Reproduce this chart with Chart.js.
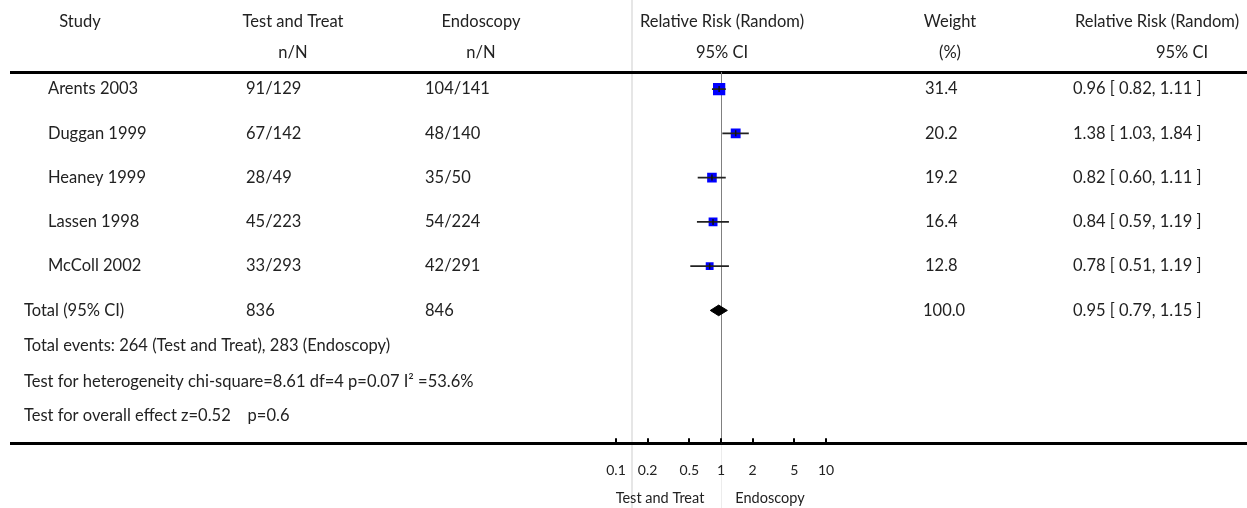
<!DOCTYPE html>
<html>
<head>
<meta charset="utf-8">
<script src="https://cdn.jsdelivr.net/npm/chart.js@4.4.1/dist/chart.umd.min.js"></script>
<style>
  html, body { margin: 0; padding: 0; background: #fff; }
  #wrap { width: 1247px; height: 508px; }
</style>
</head>
<body>
<div id="wrap"><canvas id="forest" width="1247" height="508"></canvas></div>
<script>
// study rows
const studies = ['Arents 2003', 'Duggan 1999', 'Heaney 1999', 'Lassen 1998', 'McColl 2002'];
const treatCounts = ['91/129', '67/142', '28/49', '45/223', '33/293'];
const endoCounts = ['104/141', '48/140', '35/50', '54/224', '42/291'];
const rr = [0.96, 1.38, 0.82, 0.84, 0.78];
const rrLow = [0.82, 1.03, 0.60, 0.59, 0.51];
const rrHigh = [1.11, 1.84, 1.11, 1.19, 1.19];
const weights = [31.4, 20.2, 19.2, 16.4, 12.8];

// pooled row
const totalLabel = 'Total (95% CI)';
const totalTreat = '836';
const totalEndo = '846';
const totalRR = 0.95;
const totalLow = 0.79;
const totalHigh = 1.15;
const totalWeight = 100.0;

const footnotes = [
  'Total events: 264 (Test and Treat), 283 (Endoscopy)',
  'Test for heterogeneity chi-square=8.61 df=4 p=0.07 I\u00b2 =53.6%',
  'Test for overall effect z=0.52    p=0.6'
];

const tickValues = [0.1, 0.2, 0.5, 1, 2, 5, 10];
const tickLabels = ['0.1', '0.2', '0.5', '1', '2', '5', '10'];

// layout
const W = 1247, H = 508;
const ONE_PX = 721, DECADE_PX = 105, LEFT_PX = 11;
const xMin = Math.pow(10, (LEFT_PX - ONE_PX) / DECADE_PX);
const xMax = Math.pow(10, (W - ONE_PX) / DECADE_PX);
const totalRow = studies.length;
const footRows = [5.8, 6.6, 7.37];
const FONT = 'Lato, "Open Sans", sans-serif';
const INK = '#222';

const fmt = v => v.toFixed(2);
const ciText = (m, l, h) => `${fmt(m)} [ ${fmt(l)}, ${fmt(h)} ]`;

// datasets
const squares = {
  label: 'studies',
  data: rr.map((v, i) => ({ x: v, y: i })),
  pointStyle: 'rect',
  pointRadius: weights.map(w => 1.55 * Math.sqrt(w)),
  backgroundColor: '#0000ff',
  borderColor: '#0000ff',
  borderWidth: 0,
  order: 3
};
const ciLines = rr.map((_, i) => ({
  label: 'ci' + i,
  data: [{ x: rrLow[i], y: i }, { x: rrHigh[i], y: i }],
  showLine: true,
  borderColor: '#222',
  borderWidth: 1.6,
  pointRadius: 0,
  order: 2
}));
const centreTicks = {
  label: 'est',
  data: rr.map((v, i) => ({ x: v, y: i })),
  pointStyle: 'line',
  rotation: 90,
  pointRadius: 3,
  borderColor: '#111',
  borderWidth: 1.5,
  order: 1
};
const dh = 0.12;
const diamond = {
  label: 'total',
  data: [
    { x: totalLow, y: totalRow },
    { x: totalRR, y: totalRow - dh },
    { x: totalHigh, y: totalRow },
    { x: totalRR, y: totalRow + dh },
    { x: totalLow, y: totalRow }
  ],
  showLine: true,
  fill: 'shape',
  tension: 0,
  backgroundColor: '#000',
  borderColor: '#000',
  borderWidth: 1,
  pointRadius: 0,
  order: 1
};

const tableText = {
  id: 'tableText',
  beforeDraw(chart) {
    const { ctx, chartArea, scales } = chart;
    const x1 = Math.round(scales.x.getPixelForValue(1)) + 0.5;
    ctx.save();
    ctx.fillStyle = '#fff';
    ctx.fillRect(0, 0, W, H);
    ctx.strokeStyle = '#e6e6e6';
    ctx.lineWidth = 2;
    ctx.beginPath();
    ctx.moveTo(632, 0);
    ctx.lineTo(632, H);
    ctx.stroke();
    // faint continuation of the no-effect line below the axis
    ctx.lineWidth = 1;
    ctx.strokeStyle = '#ececec';
    ctx.beginPath();
    ctx.moveTo(x1, chartArea.bottom);
    ctx.lineTo(x1, H);
    ctx.stroke();
    ctx.restore();
  },
  beforeDatasetsDraw(chart) {
    const { ctx, chartArea, scales } = chart;
    const x1 = Math.round(scales.x.getPixelForValue(1)) + 0.5;
    ctx.save();
    ctx.lineWidth = 1;
    ctx.strokeStyle = '#808080';
    ctx.beginPath();
    ctx.moveTo(x1, chartArea.top);
    ctx.lineTo(x1, chartArea.bottom);
    ctx.stroke();
    ctx.restore();
  },
  afterDraw(chart) {
    const { ctx, chartArea, scales } = chart;
    const y = v => scales.y.getPixelForValue(v);
    const top = chartArea.top;
    ctx.save();
    ctx.fillStyle = INK;
    ctx.textBaseline = 'middle';
    ctx.font = '16.5px ' + FONT;

    const put = (t, x, yy, align) => {
      ctx.textAlign = align || 'left';
      ctx.fillText(t, x, yy);
    };

    // header
    const h1 = top - 50, h2 = top - 19;
    put('Study', 80, h1, 'center');
    put('Test and Treat', 293, h1, 'center');
    put('n/N', 293, h2, 'center');
    put('Endoscopy', 481, h1, 'center');
    put('n/N', 481, h2, 'center');
    put('Relative Risk (Random)', 722, h1, 'center');
    put('95% CI', 722, h2, 'center');
    put('Weight', 950, h1, 'center');
    put('(%)', 950, h2, 'center');
    put('Relative Risk (Random)', 1157, h1, 'center');
    put('95% CI', 1182, h2, 'center');

    // study rows
    studies.forEach((s, i) => {
      const yy = y(i);
      put(s, 48, yy);
      put(treatCounts[i], 246, yy);
      put(endoCounts[i], 425, yy);
      put(weights[i].toFixed(1), 925, yy);
      put(ciText(rr[i], rrLow[i], rrHigh[i]), 1073, yy);
    });

    // total row
    const ty = y(totalRow);
    put(totalLabel, 24, ty);
    put(totalTreat, 246, ty);
    put(totalEndo, 425, ty);
    put(totalWeight.toFixed(1), 923, ty);
    put(ciText(totalRR, totalLow, totalHigh), 1073, ty);

    footnotes.forEach((f, i) => put(f, 24, y(footRows[i])));

    // tick marks above the axis line
    ctx.strokeStyle = '#000';
    ctx.lineWidth = 2;
    tickValues.forEach(v => {
      const px = Math.round(scales.x.getPixelForValue(v));
      ctx.beginPath();
      ctx.moveTo(px, chartArea.bottom - 5);
      ctx.lineTo(px, chartArea.bottom);
      ctx.stroke();
    });

    // favours labels
    ctx.font = '14.5px ' + FONT;
    put('Test and Treat', 660, H - 10, 'center');
    put('Endoscopy', 770, H - 10, 'center');
    ctx.restore();
  }
};

const noEdgePadding = s => { s.paddingLeft = 0; s.paddingRight = 0; };

new Chart(document.getElementById('forest'), {
  type: 'scatter',
  data: { datasets: [squares, ...ciLines, centreTicks, diamond] },
  options: {
    responsive: false,
    animation: false,
    events: [],
    layout: { autoPadding: false, padding: { top: 72, bottom: 10, left: LEFT_PX, right: 0 } },
    plugins: { legend: { display: false }, tooltip: { enabled: false } },
    scales: {
      x: {
        type: 'logarithmic',
        position: 'bottom',
        min: xMin,
        max: xMax,
        afterBuildTicks: scale => {
          scale.ticks = tickValues.map(v => ({ value: v }));
        },
        afterFit: noEdgePadding,
        ticks: {
          autoSkip: false,
          maxRotation: 0,
          padding: 19,
          color: INK,
          font: { family: FONT, size: 14 },
          callback: (val) => tickLabels[tickValues.indexOf(val)] ?? ''
        },
        grid: { display: false, drawTicks: false },
        border: { display: true, color: '#000', width: 3 }
      },
      xTop: {
        type: 'linear',
        position: 'top',
        min: 0,
        max: 1,
        afterFit: noEdgePadding,
        ticks: { display: false },
        grid: { display: false, drawTicks: false },
        border: { display: true, color: '#000', width: 3 }
      },
      y: {
        type: 'linear',
        min: -0.386,
        max: 8,
        reverse: true,
        display: false
      }
    }
  },
  plugins: [tableText]
});
</script>
</body>
</html>
